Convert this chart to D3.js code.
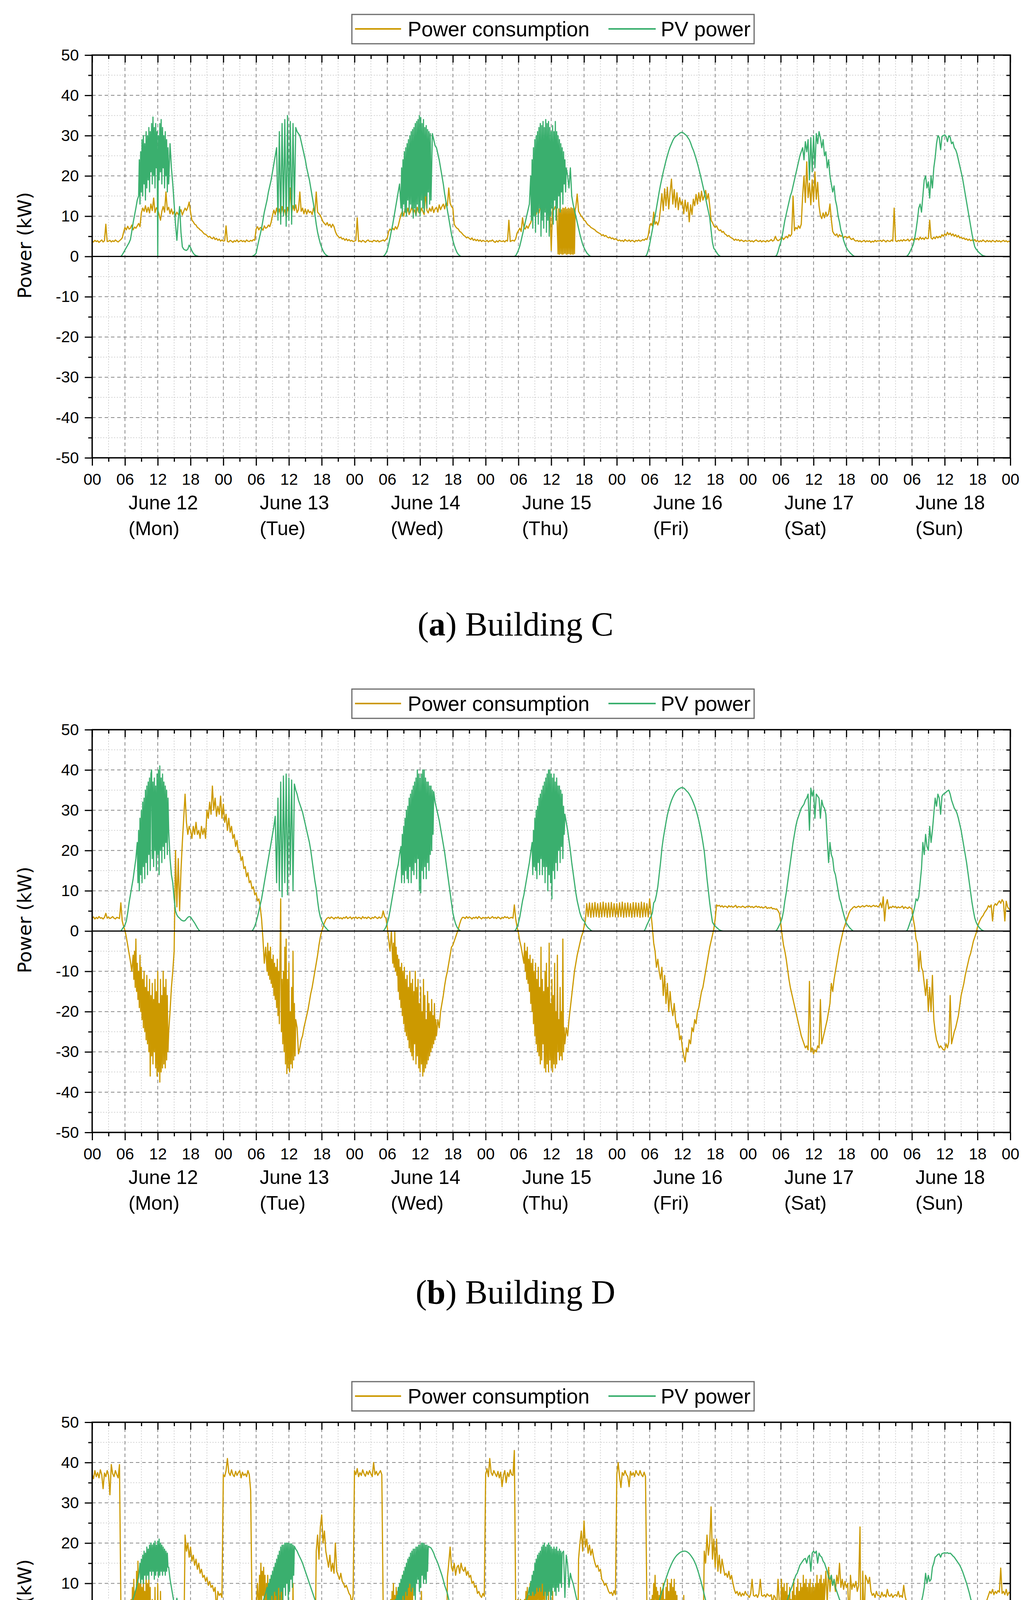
<!DOCTYPE html>
<html>
<head>
<meta charset="utf-8">
<script src="https://cdn.jsdelivr.net/npm/d3@7"></script>
<style>body{margin:0;background:#fff;overflow:hidden} svg{display:block}</style>
</head>
<body>
<div id="chart"></div>
<script>
// readings taken off the figure, 15 min apart
// consumption: one list per day, 00:00 .. 23:45 (last day also has 24:00)
// pv: one list per day, 05:00 .. 20:00, zero outside that window
// *Fine lists: [start hour, readings 7.5 min apart] for the noisiest stretches
var STEP = 0.25;
var FINE_STEP = 0.125;
var PV_START = 5;

var dayDates = ["June 12", "June 13", "June 14", "June 15", "June 16", "June 17", "June 18"];
var dayNames = ["(Mon)", "(Tue)", "(Wed)", "(Thu)", "(Fri)", "(Sat)", "(Sun)"];
var hourLabels = ["00", "06", "12", "18"];
var yTickValues = [-50, -40, -30, -20, -10, 0, 10, 20, 30, 40, 50];
var seriesNames = ["Power consumption", "PV power"];
var panelLetters = ["a", "b", "c"];
var buildingNames = ["Building C", "Building D", "Building G"];

// ---------------- Building C ----------------
var consC = [
 [3.8,3.6,4.0,3.7, 3.9,3.5,3.8,4.1, 3.6,3.9,8.0,3.7, 3.8,4.0,3.6,3.9,
  3.7,4.1,3.8,3.6, 3.9,4.2,4.6,6.0, 7.2,6.6,7.5,6.8, 7.0,7.8,6.6,7.3,
  7.0,7.6,8.2,7.4, 10.8,12.0,11.2,12.6, 11.0,12.2,10.8,13.0, 11.4,14.5,10.9,12.1,
  11.6,10.4,9.0,11.2, 12.4,11.0,16.0,11.5, 12.2,10.6,11.8,10.5, 11.2,10.2,11.0,10.4,
  10.8,11.6,10.3,11.2, 12.0,11.4,12.2,13.5, 11.0,9.0,8.6,8.0, 7.8,7.2,7.0,6.6,
  6.4,6.0,5.6,5.5, 5.2,4.8,5.0,4.6, 4.4,4.8,4.2,4.5, 4.0,4.3,3.8,4.1],
 [3.8,3.9,7.6,3.7, 3.6,4.0,3.8,3.5, 3.9,3.7,4.1,3.6, 3.8,4.0,3.7,3.9,
  3.6,4.1,3.8,3.7, 4.0,3.8,4.2,4.0, 6.8,7.4,6.6,7.2, 7.0,6.5,7.6,7.0,
  7.2,7.8,7.4,8.5, 10.2,11.5,10.4,12.0, 10.6,11.8,10.2,12.4, 10.8,11.6,9.6,12.2,
  11.0,17.0,10.8,12.6, 11.4,12.8,10.9,11.6, 16.0,11.2,12.0,10.6, 11.8,10.5,11.6,10.9,
  11.2,10.4,12.0,10.8, 16.0,11.0,10.6,10.2, 9.4,8.6,8.2,7.8, 8.4,7.6,8.0,7.2,
  8.0,7.4,6.2,5.4, 5.0,4.6,4.8,4.3, 4.5,4.0,4.4,3.9, 4.2,3.8,4.0,3.7],
 [3.8,4.0,9.6,3.7, 3.9,3.6,4.0,3.8, 3.5,3.9,4.1,3.7, 3.8,3.6,4.0,3.9,
  3.7,4.0,3.6,3.8, 3.9,4.1,3.8,4.2, 4.6,6.2,6.8,6.4, 7.0,6.6,7.4,6.8,
  7.6,9.0,10.4,11.2, 10.0,11.8,10.6,12.0, 10.4,11.2,12.4,10.8, 11.6,10.2,12.2,11.0,
  10.6,12.0,11.2,10.4, 16.2,11.4,10.8,12.0, 11.2,12.4,10.9,11.8, 12.2,11.0,12.8,11.6,
  12.4,13.0,11.8,13.4, 12.6,17.0,13.2,12.4, 12.0,8.0,7.4,7.0, 6.8,6.2,6.0,5.6,
  5.2,5.0,4.6,4.8, 4.5,4.2,4.6,4.0, 4.3,3.9,4.2,3.8, 4.1,3.7,4.0,3.8],
 [3.7,4.0,3.6,3.9, 3.8,4.1,3.7,3.5, 3.9,3.6,4.0,3.8, 3.7,3.9,3.6,4.0,
  3.8,9.0,3.7,3.9, 4.0,3.8,4.4,5.8, 6.4,7.0,6.2,9.6, 7.2,6.8,7.6,7.0,
  7.8,8.4,9.6,10.6, 11.0,10.4,12.2,10.8, 12.4,11.0,16.0,11.6, 12.6,11.2,13.0,12.0,
  1.5,12.2,11.6,12.4, 12.0,0.6,11.8,0.5, 12.0,0.6,11.6,0.8, 11.8,0.5,12.0,0.7,
  11.6,0.6,12.2,15.5, 11.2,10.6,10.0,9.6, 9.0,8.8,8.2,7.8, 7.6,7.2,7.0,6.8,
  6.6,6.2,6.0,5.8, 5.6,5.2,5.4,5.0, 5.2,4.8,4.6,4.8, 4.4,4.6,4.2,4.4],
 [4.2,3.9,4.1,3.8, 4.0,3.7,4.2,3.9, 3.8,4.1,3.7,4.0, 3.9,3.6,4.0,3.8,
  4.1,3.8,3.9,4.2, 4.0,4.4,4.2,5.2, 7.4,8.2,7.6,11.0, 8.0,8.6,7.8,9.0,
  12.0,15.6,11.4,16.8, 12.6,17.2,11.8,16.0, 19.2,13.0,16.6,12.2, 15.8,11.6,14.6,12.8,
  13.8,10.6,14.0,11.2, 13.4,8.6,12.8,10.4, 14.2,12.6,15.4,13.0, 15.8,13.6,16.2,14.0,
  15.0,16.4,14.2,15.6, 12.6,9.0,8.4,7.6, 7.2,7.6,6.8,6.4, 6.6,6.0,6.2,5.6,
  5.4,5.0,5.2,4.8, 4.6,4.4,4.0,4.3, 4.0,4.2,3.8,4.1, 3.9,3.7,4.0,3.8],
 [3.8,4.0,3.7,3.9, 3.6,3.9,4.1,3.8, 3.7,4.0,3.6,3.9, 3.8,3.6,4.0,3.7,
  3.9,4.2,3.8,4.0, 5.0,4.2,3.9,4.1, 4.4,4.8,4.2,4.6, 5.0,4.6,5.4,5.0,
  5.6,15.0,6.4,7.2, 6.8,7.6,7.0,8.0, 15.0,20.0,13.4,23.5, 14.6,18.2,12.8,19.0,
  13.6,21.0,14.2,18.4, 12.6,10.2,9.4,10.8, 9.6,11.0,10.0,10.6, 13.0,9.2,6.2,5.6,
  5.2,5.6,4.8,5.4, 5.0,5.2,4.6,5.0, 4.8,4.6,5.0,4.4, 4.2,4.5,4.0,3.8,
  4.0,3.7,3.9,3.6, 3.8,4.0,3.6,3.9, 3.7,3.9,3.5,3.8, 3.6,4.0,3.7,3.9],
 [3.8,4.0,3.7,4.1, 3.9,3.6,4.0,3.8, 3.7,4.1,3.8,12.0, 3.9,3.7,4.0,3.8,
  4.1,3.8,4.2,3.9, 4.0,4.3,3.8,4.1, 4.4,4.0,4.6,4.2, 4.5,4.1,4.8,4.3,
  4.6,4.2,4.8,4.4, 4.5,9.0,4.6,4.3, 4.8,4.4,5.0,4.6, 5.0,4.7,5.4,5.0,
  5.6,5.2,6.0,5.4, 5.8,5.2,5.6,5.0, 5.4,4.8,5.2,4.6, 4.8,4.4,4.6,4.2,
  4.4,4.0,4.3,3.9, 4.1,3.8,4.2,3.7, 4.0,3.6,3.9,3.7, 4.1,3.8,3.6,4.0,
  3.7,3.9,3.6,4.0, 3.8,3.6,4.0,3.7, 3.9,3.6,3.8,4.0, 3.7,3.9,3.6,3.8, 3.6]
];
var consCFine = [
 [85.25, [0.6,11.8,0.5,12.1,0.7,11.6,0.5,12.0,0.6,11.9,0.8,12.2,0.5,11.7,0.6,12.0,
          0.7,11.8,0.5,12.1,0.6,11.9,0.5,12.0,0.7,11.6,12.2]]
];
var pvC = [
 [0,0,0.4,1.0, 1.6,2.2,2.8,3.4, 4.2,6.2,8.4,10.2, 12.0,14.0,22.0,15.0, 26.0,16.0,30.5,18.0,
  29.0,15.0,31.5,20.0, 34.6,17.0,32.0,19.0, 0,30.0,21.0,34.0, 18.0,32.0,22.0,30.0, 16.0,28.0,22.0,18.0,
  13.0,8.0,4.0,9.0, 12.4,6.0,2.4,1.8, 1.6,1.5,1.8,2.8, 2.2,1.4,0.8,0.4, 0.2,0.1,0,0, 0],
 [0,0,0.2,0.4, 0.8,2.5,4.0,5.5, 7.0,9.0,11.0,12.5, 14.0,16.0,17.5,19.0, 21.0,23.0,25.0,27.0,
  9.0,31.0,8.0,33.0, 10.0,34.0,7.5,35.0, 9.0,33.5,8.0,33.0, 12.0,32.0,31.0,30.5, 30.0,28.5,27.0,25.5,
  24.0,22.0,20.5,19.0, 17.0,15.0,13.0,10.5, 8.0,6.0,4.5,3.2, 2.2,1.4,0.8,0.4, 0.2,0,0,0, 0],
 [0,0,0.3,0.8, 1.6,3.0,4.6,6.4, 8.0,10.0,12.0,14.0, 16.0,18.0,10.0,22.0, 12.0,26.0,10.0,28.0,
  11.0,30.0,13.0,31.5, 9.5,32.5,12.0,34.0, 10.0,35.0,14.0,33.0, 11.0,32.0,16.0,31.5, 12.0,30.5,29.0,27.5,
  27.0,25.5,24.0,22.0, 20.0,18.0,15.5,13.5, 11.5,9.5,7.5,5.5, 4.0,2.8,1.8,1.0, 0.5,0.2,0,0, 0],
 [0,0,0.2,0.8, 1.6,2.6,4.0,5.5, 7.0,8.5,10.0,11.5, 13.0,20.0,8.0,26.0, 10.0,29.0,6.0,31.0,
  12.0,33.0,5.0,32.0, 9.0,34.0,7.0,33.0, 5.0,32.0,11.0,31.0, 14.0,33.5,9.0,30.0, 12.0,28.0,15.0,24.0,
  20.0,17.0,22.0,15.0, 13.0,11.5,10.0,8.5, 7.0,5.5,4.2,3.0, 2.2,1.5,0.9,0.5, 0.2,0,0,0, 0],
 [0,0,0.5,1.5, 3.0,4.8,6.6,8.4, 10.0,12.0,14.0,16.0, 17.8,19.4,21.0,22.4, 23.8,25.0,26.2,27.2,
  28.0,28.8,29.4,29.8, 30.0,30.3,30.6,30.8, 30.8,30.6,30.3,30.0, 29.5,29.0,28.2,27.2, 26.4,25.4,24.3,23.1,
  21.8,20.4,19.0,17.5, 16.0,14.4,12.8,11.2, 9.6,6.5,3.5,2.0, 1.6,1.0,0.5,0.2, 0,0,0,0, 0],
 [0,0.3,1.2,2.5, 3.5,5.0,7.0,9.0, 10.5,12.0,13.5,15.0, 16.0,17.5,19.0,20.5, 22.0,23.5,25.0,26.0,
  27.0,24.0,28.5,26.0, 29.0,19.0,29.5,21.0, 30.0,22.0,30.5,28.0, 31.0,29.5,27.0,29.0, 25.0,26.0,22.0,24.0,
  20.0,18.0,16.0,17.5, 14.0,12.5,10.0,8.5, 6.5,5.5,4.0,3.0, 2.2,1.6,1.2,0.8, 0.5,0.2,0,0, 0],
 [0,0.3,0.8,1.5, 2.2,3.0,4.5,6.5, 9.0,12.0,13.0,11.0, 15.0,19.0,20.0,17.0, 18.5,14.5,20.0,17.0,
  22.0,24.5,28.0,30.0, 29.5,26.5,29.8,30.0, 30.2,29.8,28.5,30.0, 29.6,28.0,28.4,27.0, 26.5,25.5,24.0,22.5,
  21.0,19.5,17.5,15.5, 13.5,11.5,9.5,7.5, 5.5,3.8,2.4,1.8, 1.4,1.0,0.7,0.4, 0.2,0.1,0,0, 0]
];
var pvCFine = [
 [8.5, [15,24,13,26,16,29,15,30, 18,28,14,31,17,30,19,32, 16,31,21,33,18,34.6,20,32,
        17,33,22,31,0,30,19,33, 21,34,18,32,22,30,17,31, 20,29,16,27,18]],
 [56.5, [12,22,10,24,13,26,11,27, 10,28,14,29,11,30,13,31, 12,31.5,9.5,32,12,33,10,33.5,
         13,34,11,35,10,34.5,14,33, 12,34,11,32,15,32.5,12,31.5, 16,31,13,30.5,14]],
 [80.25, [20,9,24,7,27,10,29,6, 30,11,31,8,32,12,33,5, 32.5,9,33.5,7,32,11,34,6,
          33,9,33.5,5,32,10,31,12, 32.5,8,31,14,33.5,9,31,12, 30,15,29,11,28,16,27,13, 26,18,24,16,22]]
];

// ---------------- Building D ----------------
var consD = [
 [3.2,3.5,3.0,3.4, 3.1,3.6,3.2,3.3, 3.0,3.4,4.4,3.2, 3.5,3.1,3.3,3.6,
  3.2,3.0,3.4,3.3, 3.1,7.0,2.5,1.2, 0.2,-1.5,-3.5,-5.5, -7.5,-10.0,-6.0,-13.0,
  -2.0,-16.0,-11.0,-19.0, -8.0,-22.0,-14.0,-25.0, -12.0,-28.0,-16.0,-36.0, -14.0,-30.0,-12.0,-33.0,
  -12.0,-37.5,-18.0,-35.0, -10.0,-34.0,-16.0,-32.0, -25.0,-20.0,-14.0,-10.0, -5.0,20.0,6.0,18.0,
  5.0,15.0,22.0,28.0, 34.0,27.0,24.0,26.0, 25.0,23.0,26.0,24.0, 27.0,24.0,25.0,23.0,
  26.0,24.0,25.5,23.0, 30.0,28.0,32.0,29.0, 36.0,30.0,33.0,28.5, 31.0,29.0,33.5,28.0],
 [31.5,27.0,29.0,25.0, 28.0,24.5,26.0,23.0, 24.0,21.0,22.5,19.5, 20.0,17.5,18.5,15.5,
  16.0,13.5,14.5,12.0, 12.5,10.5,11.0,9.0, 9.5,7.5,8.0,6.0, 3.0,-2.0,-8.0,-4.0,
  -10.0,-3.0,-12.0,-6.0, -14.0,-8.0,-16.0,-10.0, -20.0,-6.0,8.0,-25.0, -10.0,-30.0,-2.0,-35.4,
  -12.0,-34.0,-20.0,-33.0, -5.0,-32.0,-24.0,-30.5, -29.0,-27.0,-26.0,-24.0, -22.5,-21.0,-19.5,-17.5,
  -15.5,-14.0,-12.0,-10.0, -8.0,-6.0,-3.5,-1.5, 0,1.0,2.0,2.8, 3.2,3.4,3.1,3.5,
  3.3,3.0,3.4,3.2, 3.5,3.1,3.3,3.0, 3.4,3.2,3.6,3.1, 3.3,3.5,3.0,3.4],
 [3.2,3.5,3.1,3.4, 3.3,3.0,3.6,3.2, 3.4,3.1,3.5,3.3, 3.0,3.4,3.2,3.6,
  3.3,3.1,3.5,3.2, 3.4,5.0,3.6,3.2, 1.0,-2.0,-5.0,0, -8.0,-4.0,-10.0,-6.0,
  -15.0,-9.0,-20.0,-10.0, -24.0,-12.0,-27.0,-15.0, -30.0,-10.0,-32.0,-18.0, -28.0,-14.0,-33.0,-16.0,
  -35.0,-20.0,-36.0,-12.0, -34.0,-22.0,-32.0,-18.0, -30.0,-20.0,-28.0,-16.0, -26.0,-22.0,-24.0,-20.0,
  -18.0,-16.0,-13.5,-11.5, -10.0,-8.0,-6.0,-4.0, -3.5,-2.5,-1.5,-0.5, 0.5,1.8,2.8,3.4,
  3.4,3.1,3.6,3.2, 3.5,3.3,3.0,3.4, 3.2,3.5,3.1,3.6, 3.3,3.0,3.4,3.2],
 [3.4,3.2,3.5,3.1, 3.3,3.6,3.2,3.4, 3.1,3.5,3.3,3.0, 3.4,3.2,3.6,3.3,
  3.5,3.1,3.3,3.4, 3.2,6.5,3.0,1.0, -0.5,-2.5,-4.0,-6.0, -8.0,-4.0,-12.0,-7.0,
  -15.0,-6.0,-20.0,-10.0, -26.0,-8.0,-30.0,-12.0, -33.0,-4.0,-28.0,-15.0, -35.0,-10.0,-32.0,-3.0,
  -34.0,-18.0,-35.0,-12.0, -33.0,-6.0,-30.0,-20.0, -32.0,-2.0,-28.0,-24.0, -26.0,-22.0,-19.0,-16.0,
  -13.0,-10.0,-8.0,-6.0, -4.5,-3.0,-1.5,-0.5, 1.0,2.6,6.8,3.6, 7.0,3.4,6.9,3.5,
  7.1,3.6,6.8,3.4, 7.0,3.5,7.2,3.6, 6.9,3.4,7.0,3.5, 7.1,3.6,6.8,3.5],
 [6.8,3.5,7.0,3.6, 7.2,3.4,6.9,3.5, 7.0,3.6,6.8,3.4, 7.1,3.5,7.0,3.6,
  6.9,3.4,7.2,3.5, 7.0,3.6,6.8,3.5, 8.0,4.5,1.0,-3.0, -5.0,-9.0,-7.0,-10.0,
  -12.0,-9.0,-16.0,-11.0, -18.0,-13.0,-20.0,-15.0, -19.0,-21.0,-18.0,-22.0, -24.0,-23.0,-27.0,-26.0,
  -29.0,-31.0,-32.5,-29.0, -30.0,-27.0,-28.0,-24.0, -25.0,-22.0,-23.0,-20.0, -19.0,-17.0,-15.0,-14.0,
  -12.0,-10.0,-8.0,-6.0, -4.0,-2.5,-1.0,0.5, 3.0,6.5,6.2,6.4, 6.0,6.3,5.9,6.2,
  6.1,5.8,6.3,6.0, 6.2,5.9,6.1,6.4, 5.8,6.1,6.0,5.9, 6.2,6.0,5.8,6.1],
 [6.0,6.2,5.9,6.1, 5.8,6.0,6.2,5.9, 6.1,5.8,6.0,5.7, 5.9,6.1,5.6,5.8,
  5.7,5.9,5.5,5.6, 5.4,5.5,5.0,4.4, 2.0,-1.0,-3.5,-5.0, -7.0,-9.5,-12.0,-14.0,
  -15.5,-17.0,-18.5,-20.0, -21.5,-23.0,-24.5,-26.0, -27.0,-28.0,-29.0,-28.5, -29.5,-12.5,-30.0,-29.0,
  -30.5,-29.5,-30.0,-28.5, -29.0,-17.0,-28.0,-26.5, -25.0,-23.5,-22.0,-20.0, -18.0,-13.0,-15.0,-12.0,
  -10.0,-8.0,-6.0,-4.0, -2.5,-1.0,0.5,1.5, 2.5,3.5,4.5,5.2, 5.5,5.9,6.1,5.8,
  6.0,6.2,5.9,6.1, 6.3,6.0,6.2,6.4, 6.1,6.3,6.0,6.2, 6.4,6.1,6.3,6.0],
 [6.2,7.0,5.8,8.5, 2.5,6.5,7.8,5.5, 6.0,5.8,6.2,5.9, 6.1,5.7,6.0,5.8,
  5.9,6.2,5.6,6.0, 5.8,5.6,6.0,5.7, 5.5,3.0,1.0,-2.0, -3.0,-10.0,-5.0,-9.0,
  -10.0,-13.0,-16.0,-12.0, -20.0,-14.0,-20.0,-11.0, -22.0,-25.0,-27.0,-28.0, -29.0,-28.5,-29.0,-29.5,
  -29.5,-28.0,-29.0,-27.5, -16.0,-28.0,-26.5,-25.0, -24.0,-22.5,-21.0,-18.5, -16.0,-14.5,-13.0,-11.0,
  -9.5,-8.0,-6.5,-5.5, -4.0,-2.5,-1.5,-0.5, 1.0,2.0,2.8,3.4, 3.8,4.5,5.0,5.5,
  6.3,5.9,6.5,2.5, 6.2,6.8,6.4,7.0, 7.5,6.9,7.8,7.2, 2.5,7.4,6.0,5.5, 5.2]
];
var consDFine = [
 [7.5, [-6,-12,-5,-14, -2,-15,-8,-17,-10,-19,-6,-20, -9,-22,-12,-24,-10,-25,-14,-27,
        -11,-28,-15,-30,-12,-36,-16,-31, -13,-33,-17,-30,-12,-34,-15,-36,
        -10,-35,-18,-37.5,-12,-35,-16,-34, -10,-33,-14,-34,-12,-32,-16,-30, -25]],
 [32.0, [-10,-3,-11,-5,-12,-4,-13,-7, -14,-6,-16,-8,-17,-9,-19,-7, -21,-10,-23,-6,8,-25,-12,-28,
         -10,-30,-4,-33,-2,-35.4,-12,-34, -8,-35,-20,-33,-14,-34,-5,-32, -18,-31,-22]],
 [55.0, [-8,-3,-9,0,-10,-4,-11,-6, -15,-7,-17,-9,-19,-8,-21,-10, -23,-9,-25,-12,-26,-11,-27,-14,
         -29,-10,-30,-13,-31,-12,-32,-15, -28,-10,-33,-14,-31,-12,-34,-18, -35,-14,-33,-20,-36,-12,-35,-16,
         -34,-22,-33,-15,-32,-18,-31,-20, -30,-17,-29,-21,-28,-18,-27,-22, -26]],
 [79.0, [-8,-3,-10,-5,-12,-4,-13,-7, -15,-6,-18,-8,-20,-7,-23,-10, -26,-8,-28,-12,-30,-9,-31,-14,
         -33,-4,-32,-12,-28,-15,-34,-10, -35,-8,-33,-14,-35,-3,-32,-18, -34,-12,-35,-16,-33,-8,-34,-20,
         -33,-6,-30,-22,-32,-14,-31,-20, -32,-2,-30,-24,-28]]
];
var pvD = [
 [0,0,0.5,1.0, 1.5,2.5,4.5,7.0, 9.0,11.0,13.0,15.5, 18.0,20.0,12.0,26.0, 10.0,30.0,14.0,33.0,
  16.0,36.0,13.0,40.0, 18.0,35.0,15.0,38.0, 20.0,41.0,14.0,37.0, 18.0,39.0,20.0,35.0, 25.0,18.0,14.0,12.0,
  8.0,5.0,4.0,3.5, 3.2,2.8,2.6,2.5, 2.6,3.0,3.4,3.6, 3.5,3.0,2.5,2.0, 1.4,0.8,0.3,0, 0],
 [0,0,0.5,1.2, 2.2,3.5,5.0,6.5, 8.0,10.0,12.0,14.0, 16.0,18.0,20.0,22.0, 24.0,26.0,28.5,12.0,
  33.0,10.0,37.0,8.5, 38.5,12.0,39.0,9.0, 38.0,14.0,37.5,10.0, 36.5,35.0,34.0,32.5, 31.5,30.5,29.5,28.0,
  26.5,25.0,23.5,22.0, 20.0,17.5,15.0,12.5, 10.5,7.5,5.0,3.5, 2.5,1.8,1.2,0.8, 0.4,0.1,0,0, 0],
 [0,0,0.4,1.0, 2.0,3.2,5.0,7.0, 9.0,11.0,13.0,15.0, 16.5,19.0,21.0,12.0, 26.0,14.0,29.0,15.0,
  32.0,12.0,35.0,16.0, 37.0,14.0,40.0,18.0, 38.0,9.5,40.0,15.0, 38.0,13.0,37.0,16.0, 36.0,20.0,34.6,32.0,
  30.5,29.0,27.5,25.5, 23.5,21.5,19.5,17.0, 14.5,12.0,9.5,7.0, 4.5,3.0,1.8,1.0, 0.5,0.2,0,0, 0],
 [0,0,0.3,1.0, 2.0,3.5,5.5,7.5, 9.0,11.0,13.0,15.0, 17.0,19.5,22.0,14.0, 28.0,15.0,31.0,13.0,
  34.0,14.0,35.0,18.0, 37.0,10.0,39.0,16.0, 40.0,12.0,38.0,8.0, 39.0,15.0,36.0,20.0, 34.0,18.0,29.0,27.0,
  25.0,22.5,20.0,17.0, 14.5,12.0,9.5,7.5, 6.0,4.5,3.5,2.8, 2.5,1.8,1.2,0.8, 0.5,0.2,0,0, 0],
 [0,0.6,1.5,2.2, 3.0,3.6,4.5,7.0, 7.5,9.0,11.0,14.0, 17.0,20.5,23.0,25.0, 27.0,28.8,30.2,31.4,
  32.4,33.2,33.9,34.5, 34.9,35.2,35.4,35.6, 35.6,35.5,35.2,34.8, 34.5,34.0,33.4,32.7, 31.9,31.0,30.0,28.8,
  27.4,25.8,24.0,22.0, 19.8,16.5,13.0,10.0, 7.0,4.5,2.2,1.6, 1.2,0.9,0.6,0.3, 0.15,0.05,0,0, 0],
 [0,0.2,0.8,1.5, 2.2,3.2,5.0,7.5, 9.5,12.0,14.5,17.0, 19.5,22.0,24.0,26.0, 27.5,28.5,29.5,30.5,
  31.0,31.5,32.5,33.0, 34.0,25.0,35.5,33.5, 35.0,28.0,34.0,33.5, 33.0,28.0,32.5,31.0, 30.5,29.0,23.0,17.0,
  22.0,19.0,18.0,15.0, 14.0,12.0,10.0,8.0, 7.0,5.5,4.2,3.0, 2.0,1.5,1.0,0.6, 0.3,0,0,0, 0],
 [0,0.5,1.5,2.5, 3.5,4.5,6.0,8.0, 7.5,8.5,12.0,15.5, 22.0,19.0,24.0,21.0, 20.0,26.0,22.0,25.0,
  29.0,33.0,31.0,34.0, 33.0,29.0,33.5,34.0, 34.2,34.5,34.8,35.0, 34.0,32.5,31.5,30.5, 30.0,29.2,28.0,26.5,
  25.0,23.0,21.0,19.0, 17.0,14.5,12.0,9.5, 7.0,5.0,3.2,2.2, 1.5,1.0,0.6,0.3, 0.1,0,0,0, 0]
];
var pvDFine = [
 [8.25, [22,12,25,10,28,14, 30,12,32,16,33,13,35,17, 36,14,37,19,38,15,39,40,
         18,37,16,38,20,36,15,39, 19,40,14,41,20,38,17,39, 21,37,18,36,22,35,19,33, 25]],
 [56.5, [21,12,24,14, 26,12,28,15,30,13,31,12, 33,16,34,12,35,15,36,14, 37,17,38,13,40,18,39,10,
         38,9.5,39,15,40,13,40,16, 38,13,37,17,37,15,36,19, 36,20,35,24,34.6]],
 [80.5, [22,14,25,16, 28,15,30,13,31,17,33,14, 34,18,35,14,36,16,37,12, 38,16,39,10,40,14,40,12,
         39,8,38,15,39,13,37,17, 38,15,36,20,36,17,35,21, 34,18,31,24,29]]
];

// ---------------- Building G ----------------
var consG = [
 [37.0,36.0,38.0,36.5, 37.5,36.2,38.2,37.0, 33.5,37.4,36.5,38.0, 36.8,32.0,39.5,37.2,
  36.5,38.0,37.0,36.2, 39.5,5.0,3.6,4.0, 3.2,3.8,3.0,-2.0, 5.0,-3.0,12.0,-6.0,
  15.5,-8.0,10.0,-4.0, 12.0,0,8.0,-3.0, 10.0,2.0,11.0,-28.0, 6.0,-35.0,9.0,-30.0,
  10.0,-28.0,8.0,-30.0, -29.0,-22.0,-24.0,-27.0, -22.0,-18.0,-20.0,-13.0, -17.0,-15.0,-12.0,-16.0,
  -14.0,-10.0,-12.0,-8.0, 22.0,18.0,20.0,16.5, 19.0,15.5,17.0,14.5, 16.0,13.5,15.0,12.5,
  13.5,11.5,12.0,10.5, 11.5,9.5,10.5,9.0, 9.5,8.0,9.0,3.5, 8.0,7.0,7.5,6.5],
 [37.0,36.5,38.0,41.0, 37.5,36.8,38.2,37.0, 36.5,37.8,36.8,37.5, 38.0,36.2,37.6,36.8,
  37.2,36.5,38.0,37.0, 33.0,3.2,2.8,3.4, 3.0,10.0,15.0,5.0, 12.0,6.0,14.0,-5.0,
  8.0,-3.0,12.0,2.0, 9.0,-2.0,10.0,-4.0, 7.0,-5.0,9.0,15.0, -33.0,-15.0,-36.0,-20.0,
  -30.0,-10.0,-28.0,10.0, -25.0,-22.0,-28.0,-20.0, -26.0,-21.0,-24.0,-18.0, -22.0,-17.0,-20.0,-15.0,
  -19.0,-16.0,-18.0,-15.0, 18.0,22.0,16.0,24.0, 27.0,20.0,23.0,18.0, 16.0,14.0,17.0,13.0,
  15.0,12.5,20.0,13.0, 12.0,11.0,12.5,10.5, 10.0,9.0,9.5,8.5, 7.5,7.0,5.0,7.0],
 [38.0,37.0,38.5,36.5, 37.5,36.8,38.2,37.2, 36.6,37.8,37.0,38.0, 37.2,36.5,40.0,37.0,
  37.8,36.8,37.4,38.0, 37.0,3.7,4.5,3.5, 5.0,3.2,-3.0,8.0, -2.0,10.0,0,6.0,
  -6.0,9.0,-2.0,12.0, 2.0,8.0,-1.0,11.0, 4.0,10.0,0,-30.0, -36.5,-25.0,-32.0,-10.0,
  -28.0,8.0,-22.0,-26.0, -20.0,-30.0,-17.0,-33.0, -22.0,-28.0,-19.0,-25.0, -20.0,-24.0,-18.0,-22.0,
  -17.0,-20.0,-15.0,-18.0, 11.5,15.0,19.0,14.0, 13.0,15.0,12.0,14.0, 14.5,12.5,15.0,13.5,
  13.0,14.0,12.0,13.0, 11.5,12.0,10.0,10.5, 9.0,9.5,7.5,8.0, 7.0,6.5,7.5,6.8],
 [37.0,38.5,36.5,41.0, 37.5,36.8,38.0,37.2, 36.5,37.8,36.2,37.6, 34.0,36.8,38.0,35.0,
  37.5,36.5,38.2,37.0, 36.8,43.0,4.0,2.5, 5.0,2.0,6.0,3.0, 4.0,2.5,8.0,3.0,
  9.0,-2.0,10.0,4.0, 8.0,3.0,12.0,5.0, 14.0,4.0,10.0,6.0, 15.0,-25.0,10.0,-37.0,
  -30.0,8.0,-22.0,-28.0, -34.0,-21.0,-36.0,-25.0, -28.0,-13.0,-22.0,-25.0, -23.0,-20.0,-25.0,-22.0,
  -25.0,-14.0,-24.0,-25.0, 16.0,20.0,23.0,18.0, 25.5,19.0,21.0,17.5, 19.5,17.0,18.5,16.5,
  15.0,14.0,14.5,13.0, 13.5,11.0,10.5,9.5, 10.0,9.0,8.0,7.5, 7.8,7.0,8.2,7.2],
 [37.0,40.0,36.5,33.8, 37.5,36.8,38.0,37.0, 36.5,34.0,37.8,36.8, 37.5,36.5,38.0,37.2,
  36.8,38.0,37.0,36.5, 37.6,36.5,5.0,3.8, 4.5,3.5,7.0,4.0, 12.0,6.0,8.0,-6.0,
  9.0,-4.0,10.0,-6.0, 6.0,-2.0,11.0,-5.0, 8.0,2.0,11.0,-3.0, 7.0,-25.0,-32.0,-37.0,
  -29.0,7.0,-35.0,-30.0, -20.0,-28.0,-22.0,-25.0, -15.0,-23.0,-18.0,-21.0, -15.0,-13.0,-12.0,-10.0,
  18.0,15.0,22.0,17.0, 20.0,29.0,16.0,21.0, 14.0,21.0,13.0,17.0, 12.5,16.0,14.0,12.0,
  12.5,11.5,13.0,11.0, 12.0,10.0,8.5,7.5, 8.0,7.0,7.8,6.8, 7.5,7.0,8.0,7.2],
 [7.0,6.5,7.5,11.0, 7.0,6.8,7.2,6.5, 7.5,11.0,7.0,6.8, 7.2,6.6,7.4,7.0,
  6.8,7.2,5.0,7.0, 6.5,4.0,11.0,5.0, 3.5,12.0,-2.0,8.0, -5.0,10.0,0,6.0,
  -9.0,4.0,-3.0,11.0, 0,-8.0,9.0,2.0, 12.0,-2.0,10.0,3.0, 8.0,-5.0,11.0,-10.0,
  10.0,-6.0,9.0,0, 12.0,-5.0,10.0,2.0, 6.0,13.0,5.0,14.0, 8.0,12.0,9.5,11.0,
  8.0,12.0,10.0,15.0, 9.0,11.0,8.5,10.5, 9.0,10.0,0,12.0, 8.5,10.0,9.0,10.5,
  8.0,9.5,24.0,-19.5, 13.0,0,12.0,11.0, 10.0,11.5,8.0,7.0, 7.5,6.5,8.0,7.0],
 [7.0,6.5,7.8,6.8, 7.2,6.6,8.5,7.0, 6.8,7.4,6.5,7.0, 7.2,6.8,8.0,6.6,
  7.0,6.5,9.5,6.8, 5.5,5.0,4.2,3.5, 3.0,2.5,3.0,0.5, 2.5,1.5,0,-2.0,
  -3.5,-5.0,-6.0,-7.0, -8.0,-9.0,-10.0,-11.0, -12.0,-11.5,-13.0,-13.5, -14.0,-13.5,-14.5,-14.0,
  -15.0,-14.0,-14.5,-13.5, -14.0,-12.5,-13.0,-11.5, -12.0,-10.5,-10.0,-9.0, -8.0,-7.5,-6.5,-5.5,
  -5.0,-3.0,-1.0,0.5, 0.5,1.0,1.5,1.2, 1.8,2.5,5.0,2.5, 3.0,3.2,5.0,6.0,
  7.0,8.0,7.5,8.5, 7.2,8.0,7.5,8.2, 7.8,13.8,7.5,8.0, 7.2,8.5,7.0,7.8, 7.5]
];
var consGFine = [
 [6.75, [-2,4,-3,6,1,9,-5,11, -6,8,-8,13,-4,15.5,-10,10, -7,12,-3,9,0,11,2,8, -3,12,1,10,3,11,0,9]],
 [30.5, [3,12,6,15, 5,13,7,14,4,12,-5,10, 3,12,-2,9,-3,11,1,10, -2,9,-4,12,0,8,-3,10,
         -5,9,-4,7,-5,15,2,12]],
 [54.5, [-3,6,0,8, -2,10,1,7,-3,9,2,8, -4,9,-2,10,-6,7,-1,12, 2,9,-2,11,1,10,-1,12, 3,10,0,11,2,9]],
 [77.75, [2.5,6, 2,5,3,6,2,5.5,3,4, 2.5,6,3,8,4,9,-2,7, 3,10,4,8,-1,9,3,10,
          5,12,3,11,6,14,4,12, 5,15,3,11,6,13,4,12]],
 [102.0, [4.5,3,6,3.5,7,4,10,5, 12,6,9,4,8,-2,7,1, 9,-6,8,-1,10,-6,6,-2, 9,0,11,-3,8,-5,10,0,
          11,-3,9,2,11,-2,8,3]],
 [126.0, [3.5,11,-2,9,-4,10,-1,8, -5,10,0,7,-3,9,2,6, -6,8,-2,11,0,7,-9,9, 1,11,-8,8,2,10,0,9,
          -2,12,1,10,-1,11,3,9, -3,10,-6,11,-10,9,-4,10, -7,9,0,10,-3,12,2,10, -5,11,1,12,3,10,0,11, 6]]
];
var pvG = [
 [0,0.2,0.5,0.8, 1.0,1.5,2.2,3.0, 4.0,5.0,6.2,7.2, 8.5,10.0,11.5,15.0, 11.0,17.0,10.0,18.0,
  11.5,19.0,12.0,20.0, 12.0,19.5,13.0,20.5, 12.0,21.0,11.5,19.5, 13.0,19.0,12.0,17.5, 14.0,11.0,9.0,7.0,
  5.0,4.5,6.3,4.0, 2.0,1.5,1.2,1.0, 1.0,1.2,1.4,1.5, 1.5,1.2,0.9,0.7, 0.5,0.3,0.2,0.1, 0],
 [0,0,0.2,0.6, 1.0,1.6,2.5,3.5, 4.5,5.5,6.5,7.5, 9.0,5.0,11.0,6.0, 13.0,7.0,15.0,8.0,
  17.0,6.0,19.0,9.0, 19.5,5.0,20.0,10.0, 20.0,8.0,19.8,12.0, 19.2,18.5,18.0,17.2, 16.5,15.8,15.0,14.0,
  13.0,12.0,11.0,10.0, 9.0,8.0,7.0,6.0, 5.0,4.0,3.0,2.2, 1.6,1.2,1.0,0.6, 0.3,0.1,0,0, 0],
 [0,0,0.2,0.5, 0.8,1.2,1.6,2.4, 3.5,5.0,3.0,7.0, 9.0,5.0,11.0,6.0, 13.0,7.0,15.0,8.0,
  16.5,10.0,18.0,9.0, 18.5,6.0,19.0,11.0, 19.5,9.0,20.0,12.0, 19.5,10.0,19.5,19.0, 18.8,18.2,17.5,16.5,
  15.8,15.0,14.0,13.0, 12.0,10.8,9.5,8.5, 7.5,6.0,5.0,4.0, 3.0,2.2,1.6,1.1, 0.7,0.4,0.2,0.1, 0],
 [0,0,0.3,0.6, 1.0,1.5,2.2,3.0, 4.0,5.0,6.0,7.0, 9.0,10.5,7.0,13.0, 8.0,15.0,7.5,17.0,
  9.0,18.0,8.0,20.0, 7.0,19.0,6.0,20.0, 8.0,19.0,6.0,18.5, 9.0,19.0,7.0,18.0, 9.0,18.0,6.5,17.0,
  14.5,9.0,12.5,11.0, 10.0,8.5,7.0,5.5, 4.0,3.0,2.0,1.4, 0.8,0.6,0.4,0.3, 0.2,0.1,0,0, 0],
 [0,0,0,0.2, 0.5,0.8,1.2,1.8, 2.6,3.4,4.4,5.4, 6.8,8.0,9.0,10.2, 11.2,12.2,13.2,14.0,
  14.8,15.5,16.1,16.6, 17.0,17.3,17.6,17.8, 17.9,18.0,18.0,17.9, 17.7,17.4,17.0,16.5, 16.0,15.3,14.5,13.5,
  12.4,11.2,10.0,8.6, 7.2,5.8,4.5,3.4, 2.5,1.8,1.3,1.0, 0.8,0.6,0.4,0.3, 0.2,0.1,0,0, 0],
 [0,0,0,0.3, 0.8,1.5,2.5,3.8, 4.8,6.0,7.0,8.2, 9.0,10.0,11.0,12.0, 12.5,13.5,14.5,15.0,
  15.5,16.0,16.2,15.0, 16.5,17.0,13.0,17.5, 18.0,17.5,18.0,15.0, 17.5,16.8,16.5,15.5, 15.0,14.0,13.0,11.5,
  11.0,12.0,9.5,11.0, 9.0,8.0,7.0,6.0, 5.5,4.5,3.5,3.0, 2.5,1.8,1.3,1.0, 0.6,0.3,0.1,0, 0],
 [0,0,0,0.2, 0.6,1.2,1.8,2.4, 3.0,3.6,4.4,5.5, 7.0,9.0,12.5,10.0, 12.0,10.5,11.0,14.0,
  15.0,16.5,16.8,17.2, 17.3,16.5,17.4,17.5, 17.6,17.5,17.6,17.4, 17.5,17.2,16.8,16.5, 16.0,15.5,15.0,14.5,
  13.8,13.0,12.0,11.0, 10.0,8.8,7.6,6.2, 5.0,4.0,3.0,2.4, 1.8,1.4,1.0,0.7, 0.5,0.3,0.2,0.1, 0]
];
var pvGFine = [
 [8.75, [15,10,16,11,17,10,18,12, 17.5,11,19,12,18.5,11,19.5,13, 20,12,19.5,13,20,11,20.5,12,
         19.5,13,20.5,11.5,21,12,20,13, 19.5,12,19,13,18.5,12,18,13, 17.5,14]],
 [32.0, [9,5,10,6,11,5.5,12,7, 13,6,14,8,15,7,16,6, 17,9,18,6,19,8,19.5,5, 19.5,9,20,7,20,10,20,6,
         20,8,19.8,11,19.8,9,19.5,12, 19.2]],
 [55.5, [6,3,7,4, 9,5,10,6,11,5,12,7, 13,6,14,8,15,7,16,9, 16.5,10,17.5,8,18,9,18.5,7,
         18.5,6,19,10,19,11,19.5,8, 19.5,9,20,12,20,10,19.8,11, 19.5,10,19.5,13,19.2]],
 [80.0, [9,7,10.5,7,12,8,13,7, 15,7.5,16,9,17,8,17.5,9, 18,8,19,10,19.5,7,20,8, 19,6,19.5,7,20,8,19.5,6,
         19,7,18.5,9,19,8,18.5,7, 19,9,18,8,18.5,10,18,9, 17.5]]
];

// ---------------- layout ----------------
var svgWidth = 2640;
var svgHeight = 5164;
var plotLeft = 236, plotRight = 2587, plotH = 1031;
var panelTop = [141, 1868, 3641];
var captionBase = [1627, 3337, 5097];
var colCons = "#CC9900";
var colPV = "#3AAF6E";
var sansFont = "'Liberation Sans', Arial, Helvetica, sans-serif";

var svg = d3.select("#chart").append("svg")
    .attr("width", svgWidth)
    .attr("height", svgHeight);
svg.append("rect").attr("width", svgWidth).attr("height", svgHeight).attr("fill", "#fff");

var x = d3.scaleLinear().domain([0, 168]).range([plotLeft, plotRight]);
var y = d3.scaleLinear().domain([-50, 50]).range([plotH, 0]);

// turn the day lists into [hour, kW] points
function consPoints(days) {
    var pts = [];
    days.forEach(function(arr, d) {
        arr.forEach(function(v, k) { pts.push([24 * d + k * STEP, v]); });
    });
    return pts;
}
function pvPoints(days) {
    var pts = [];
    days.forEach(function(arr, d) {
        pts.push([24 * d, 0]);
        arr.forEach(function(v, k) { pts.push([24 * d + PV_START + k * STEP, v]); });
    });
    pts.push([168, 0]);
    return pts;
}
// swap in the 7.5-min readings where they exist
function withFine(pts, fine) {
    fine.forEach(function(seg) {
        var t0 = seg[0], t1 = seg[0] + (seg[1].length - 1) * FINE_STEP;
        pts = pts.filter(p => p[0] < t0 - 1e-6 || p[0] > t1 + 1e-6);
        seg[1].forEach(function(v, k) { pts.push([t0 + k * FINE_STEP, v]); });
    });
    return pts.sort((a, b) => a[0] - b[0]);
}

var line = d3.line().x(d => x(d[0])).y(d => y(d[1]));

function styleAxis(ax) {
    ax.select(".domain").remove();
    ax.selectAll(".tick line").attr("stroke", "#000").attr("stroke-width", 3);
    ax.attr("font-family", sansFont).attr("font-size", 41);
    ax.selectAll("text").attr("fill", "#000");
}

function drawPanel(i, consData, pvData) {
    var g = svg.append("g").attr("transform", `translate(0, ${panelTop[i]})`);

    // minor grid (dotted)
    g.append("g").selectAll("line").data(d3.range(3, 168, 6)).enter().append("line")
        .attr("x1", d => x(d)).attr("x2", d => x(d)).attr("y1", 0).attr("y2", plotH)
        .attr("stroke", "#d2d2d2").attr("stroke-width", 2).attr("stroke-dasharray", "3,4");
    g.append("g").selectAll("line").data(d3.range(-45, 50, 10)).enter().append("line")
        .attr("x1", plotLeft).attr("x2", plotRight).attr("y1", d => y(d)).attr("y2", d => y(d))
        .attr("stroke", "#d2d2d2").attr("stroke-width", 2).attr("stroke-dasharray", "3,4");
    // major grid (dashed)
    g.append("g").selectAll("line").data(d3.range(6, 168, 6)).enter().append("line")
        .attr("x1", d => x(d)).attr("x2", d => x(d)).attr("y1", 0).attr("y2", plotH)
        .attr("stroke", "#8a8a8a").attr("stroke-width", 2).attr("stroke-dasharray", "9,7");
    g.append("g").selectAll("line").data(yTickValues.filter(v => v !== 0 && Math.abs(v) !== 50)).enter().append("line")
        .attr("x1", plotLeft).attr("x2", plotRight).attr("y1", d => y(d)).attr("y2", d => y(d))
        .attr("stroke", "#8a8a8a").attr("stroke-width", 2).attr("stroke-dasharray", "9,7");

    // data
    svg.append("clipPath").attr("id", "clip" + i).append("rect")
        .attr("x", plotLeft).attr("y", 0).attr("width", plotRight - plotLeft).attr("height", plotH);
    var dataG = g.append("g").attr("clip-path", `url(#clip${i})`);
    dataG.append("path").datum(consData)
        .attr("d", line).attr("fill", "none").attr("stroke", colCons)
        .attr("stroke-width", 3).attr("stroke-linejoin", "round");
    dataG.append("path").datum(pvData)
        .attr("d", line).attr("fill", "none").attr("stroke", colPV)
        .attr("stroke-width", 3).attr("stroke-linejoin", "round");

    // zero line
    g.append("line").attr("x1", plotLeft).attr("x2", plotRight)
        .attr("y1", y(0)).attr("y2", y(0)).attr("stroke", "#000").attr("stroke-width", 3);

    // axes: bottom/left ticks point out, top/right ticks point in
    var bottom = g.append("g").attr("transform", `translate(0, ${plotH})`)
        .call(d3.axisBottom(x).tickValues(d3.range(0, 169, 6)).tickSize(20).tickPadding(20)
            .tickFormat(d => hourLabels[(d % 24) / 6]));
    styleAxis(bottom);
    var bottomMinor = g.append("g").attr("transform", `translate(0, ${plotH})`)
        .call(d3.axisBottom(x).tickValues(d3.range(3, 168, 6)).tickSize(10).tickFormat(""));
    styleAxis(bottomMinor);
    var top = g.append("g")
        .call(d3.axisTop(x).tickValues(d3.range(0, 169, 6)).tickSize(-19).tickFormat(""));
    styleAxis(top);
    var topMinor = g.append("g")
        .call(d3.axisTop(x).tickValues(d3.range(3, 168, 6)).tickSize(-10).tickFormat(""));
    styleAxis(topMinor);

    var left = g.append("g").attr("transform", `translate(${plotLeft}, 0)`)
        .call(d3.axisLeft(y).tickValues(yTickValues).tickSize(19).tickPadding(15)
            .tickFormat(d => String(d)));
    styleAxis(left);
    var leftMinor = g.append("g").attr("transform", `translate(${plotLeft}, 0)`)
        .call(d3.axisLeft(y).tickValues(d3.range(-45, 50, 10)).tickSize(10).tickFormat(""));
    styleAxis(leftMinor);
    var right = g.append("g").attr("transform", `translate(${plotRight}, 0)`)
        .call(d3.axisRight(y).tickValues(yTickValues).tickSize(-19).tickFormat(""));
    styleAxis(right);
    var rightMinor = g.append("g").attr("transform", `translate(${plotRight}, 0)`)
        .call(d3.axisRight(y).tickValues(d3.range(-45, 50, 10)).tickSize(-10).tickFormat(""));
    styleAxis(rightMinor);

    // frame
    g.append("rect").attr("x", plotLeft).attr("y", 0)
        .attr("width", plotRight - plotLeft).attr("height", plotH)
        .attr("fill", "none").attr("stroke", "#000").attr("stroke-width", 3.5);

    // day labels under the hour ticks
    dayDates.forEach(function(lbl, d) {
        g.append("text").attr("x", x(24 * d + 6.65)).attr("y", plotH + 132)
            .attr("font-family", sansFont).attr("font-size", 50).text(lbl);
        g.append("text").attr("x", x(24 * d + 6.65)).attr("y", plotH + 198)
            .attr("font-family", sansFont).attr("font-size", 50).text(dayNames[d]);
    });

    // y title
    g.append("text")
        .attr("transform", `translate(80, ${487}) rotate(-90)`)
        .attr("text-anchor", "middle")
        .attr("font-family", "'DejaVu Sans', Verdana, sans-serif")
        .attr("font-size", 48)
        .text("Power (kW)");

    // legend
    var lg = g.append("g");
    lg.append("rect").attr("x", 901).attr("y", -104).attr("width", 1030).attr("height", 75)
        .attr("fill", "#fff").attr("stroke", "#6a6a6a").attr("stroke-width", 3);
    lg.append("line").attr("x1", 909).attr("x2", 1027).attr("y1", -67).attr("y2", -67)
        .attr("stroke", colCons).attr("stroke-width", 4);
    lg.append("text").attr("x", 1044).attr("y", -48)
        .attr("font-family", sansFont).attr("font-size", 53).text(seriesNames[0]);
    lg.append("line").attr("x1", 1558).attr("x2", 1679).attr("y1", -67).attr("y2", -67)
        .attr("stroke", colPV).attr("stroke-width", 4);
    lg.append("text").attr("x", 1692).attr("y", -48)
        .attr("font-family", sansFont).attr("font-size", 53).text(seriesNames[1]);

    // caption
    var cap = svg.append("text").attr("x", svgWidth / 2).attr("y", captionBase[i])
        .attr("text-anchor", "middle")
        .attr("font-family", "'Liberation Serif', 'Times New Roman', serif")
        .attr("font-size", 86);
    cap.append("tspan").text("(");
    cap.append("tspan").attr("font-weight", "bold").text(panelLetters[i]);
    cap.append("tspan").text(") " + buildingNames[i]);
}

drawPanel(0, withFine(consPoints(consC), consCFine), withFine(pvPoints(pvC), pvCFine));
drawPanel(1, withFine(consPoints(consD), consDFine), withFine(pvPoints(pvD), pvDFine));
drawPanel(2, withFine(consPoints(consG), consGFine), withFine(pvPoints(pvG), pvGFine));
</script>
</body>
</html>
